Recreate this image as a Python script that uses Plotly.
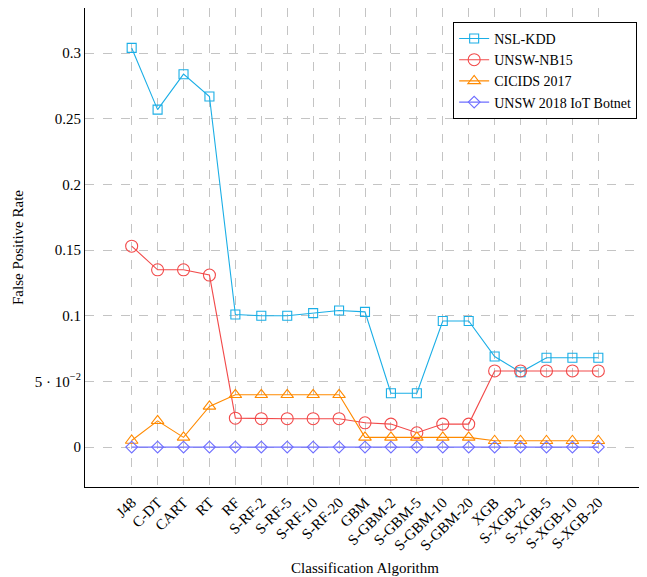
import plotly.graph_objects as go

categories = ["J48", "C-DT", "CART", "RT", "RF", "S-RF-2", "S-RF-5", "S-RF-10", "S-RF-20",
              "GBM", "S-GBM-2", "S-GBM-5", "S-GBM-10", "S-GBM-20", "XGB", "S-XGB-2",
              "S-XGB-5", "S-XGB-10", "S-XGB-20"]

nsl_kdd = [0.304, 0.257, 0.284, 0.267, 0.101, 0.100, 0.100, 0.102, 0.104,
           0.103, 0.041, 0.041, 0.096, 0.096, 0.069, 0.057, 0.068, 0.068, 0.068]
unsw_nb15 = [0.153, 0.135, 0.135, 0.131, 0.022, 0.0216, 0.0216, 0.0216, 0.0216,
             0.0185, 0.0175, 0.0109, 0.0175, 0.0175, 0.058, 0.058, 0.058, 0.058, 0.058]
cicids = [0.005, 0.020, 0.0074, 0.031, 0.0398, 0.0398, 0.0398, 0.0398, 0.0398,
          0.0074, 0.0074, 0.0074, 0.0074, 0.0074, 0.0048, 0.0048, 0.0048, 0.0048, 0.0048]
iot = [0.0] * 19

series_names = ["NSL-KDD", "UNSW-NB15", "CICIDS 2017", "UNSW 2018 IoT Botnet"]
y_tickvals = [0, 0.05, 0.1, 0.15, 0.2, 0.25, 0.3]
y_ticktext = ["0", "5 · 10<sup>−2</sup>", "0.1", "0.15", "0.2", "0.25", "0.3"]

styles = [
    ("#1aaee6", "square-open", 9),
    ("#f24a4a", "circle-open", 12),
    ("#ff8a00", "triangle-up-open", 11),
    ("#6e6eff", "diamond-open", 9),
]

x_idx = list(range(len(categories)))
fig = go.Figure()
for name, vals, (col, sym, sz) in zip(series_names, [nsl_kdd, unsw_nb15, cicids, iot], styles):
    fig.add_trace(go.Scatter(
        x=x_idx, y=vals, name=name, mode="lines+markers",
        line=dict(color=col, width=1.1),
        marker=dict(symbol=sym, size=sz, color=col, line=dict(color=col, width=1.1)),
    ))

font = "Liberation Serif, DejaVu Serif, serif"
fs = 15
n = len(categories) - 1
# page body has an 8px default margin; margins compensate for it
fig.update_layout(
    width=647, height=577,
    margin=dict(l=77, r=10, t=0, b=98, autoexpand=False),
    paper_bgcolor="white", plot_bgcolor="white",
    font=dict(family=font, size=fs, color="black"),
    showlegend=True,
    legend=dict(x=0.986, y=0.971, xanchor="right", yanchor="top",
                bordercolor="black", borderwidth=1, bgcolor="white",
                font=dict(family=font, size=14), tracegroupgap=0,
                itemwidth=30, entrywidth=160, entrywidthmode="pixels"),
    xaxis=dict(
        range=[-0.1 * n, n * 1.1], tickmode="array", tickvals=x_idx, ticktext=categories,
        tickangle=-45, showgrid=True, gridcolor="#c4c4c4", griddash="dash", gridwidth=1,
        showline=True, linecolor="black", linewidth=1, mirror=True, zeroline=False,
        ticks="", tickfont=dict(family=font, size=fs), automargin=False,
        title=dict(text="Classification Algorithm", font=dict(family=font, size=fs), standoff=9),
    ),
    yaxis=dict(
        range=[-0.0304, 0.3344], tickmode="array", tickvals=y_tickvals, ticktext=y_ticktext,
        showgrid=True, gridcolor="#c4c4c4", griddash="dash", gridwidth=1,
        showline=True, linecolor="black", linewidth=1, mirror=True, zeroline=False,
        ticks="", tickfont=dict(family=font, size=fs), automargin=False,
        title=dict(text="False Positive Rate", font=dict(family=font, size=fs), standoff=7),
    ),
)

fig.write_html("out.html")
